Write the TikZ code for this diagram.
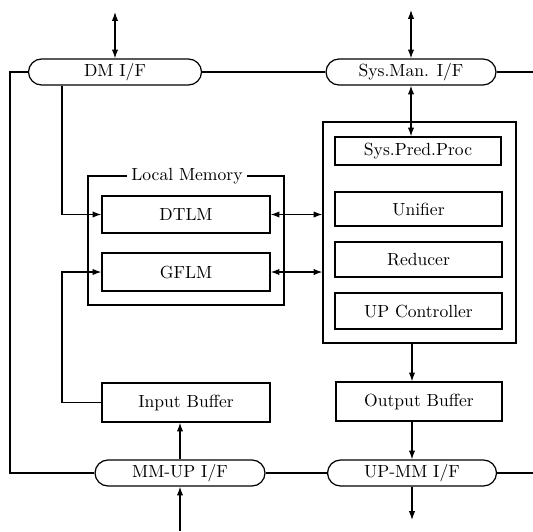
\documentclass[tikz,border=0pt]{standalone}
\usetikzlibrary{arrows.meta,shapes.misc}
\begin{document}
\begin{tikzpicture}[x=0.02cm,y=-0.02cm,line width=0.7pt,
    >={Latex[length=5pt,width=3.6pt]},
    ifc/.style={draw,rounded rectangle,minimum height=0.52cm,inner sep=0pt},
    blk/.style={draw,rectangle,inner sep=0pt}]
    \useasboundingbox (0,0) rectangle (533,531);
    \node[ifc,minimum width=3.46cm] (dmif) at (115,72) {DM I/F};
    \node[ifc,minimum width=3.4cm] (smif) at (411,72) {Sys.Man. I/F};
    \node[ifc,minimum width=3.4cm] (mmup) at (180,473) {MM-UP I/F};
    \node[ifc,minimum width=3.38cm] (upmm) at (412,473) {UP-MM I/F};
    \node[blk,minimum width=3.86cm,minimum height=4.42cm] (proc) at (419.5,232.5) {};
    \node[blk,minimum width=3.32cm,minimum height=0.56cm] (spp) at (418,151) {Sys.Pred.Proc};
    \node[blk,minimum width=3.34cm,minimum height=0.68cm] (unif) at (418.5,209) {Unifier};
    \node[blk,minimum width=3.34cm,minimum height=0.7cm] (red) at (418.5,259.5) {Reducer};
    \node[blk,minimum width=3.34cm,minimum height=0.72cm] (upc) at (418.5,311) {UP Controller};
    \node[blk,minimum width=3.92cm,minimum height=2.58cm] (lmem) at (186,240.5) {};
    \node[fill=white,inner sep=2.5pt] (lmlbl) at (187,176) {Local Memory};
    \node[blk,minimum width=3.36cm,minimum height=0.74cm] (dtlm) at (186,214.5) {DTLM};
    \node[blk,minimum width=3.36cm,minimum height=0.76cm] (gflm) at (186,272) {GFLM};
    \node[blk,minimum width=3.36cm,minimum height=0.78cm] (inbuf) at (186,402.5) {Input Buffer};
    \node[blk,minimum width=3.32cm,minimum height=0.78cm] (outbuf) at (419,401.5) {Output Buffer};
    \coordinate (dmtop) at (115,12);
    \coordinate (smtop) at (411,10);
    \coordinate (rgtA) at (533,72);
    \coordinate (rgtB) at (533,473);
    \coordinate (lft) at (10,0);
    \coordinate (bus) at (62,0);
    \coordinate (mmbot) at (180,531);
    \coordinate (upbot) at (412,520);
    \draw[<->] (dmtop) -- (dmif.north);
    \draw[<->] (smtop) -- (smif.north);
    \draw[<->] (smif.south) -- (smif.south |- spp.north);
    \draw
    (dmif.east) -- (smif.west)
    (smif.east) -- (rgtA)
    (mmup.east) -- (upmm.west)
    (upmm.east) -- (rgtB)
    ;
    \draw (dmif.west) -- (dmif.west -| lft) -- (lft |- mmup.west) -- (mmup.west);
    \draw[->] (dmif.south -| bus) |- (dtlm.west);
    \draw[->] (inbuf.west) -- (inbuf.west -| bus) |- (gflm.west);
    \draw[<->] (dtlm.east) -- (dtlm.east -| proc.west);
    \draw[<->] (gflm.east) -- (gflm.east -| proc.west);
    \draw[->] (proc.south -| upmm) -- (upmm |- outbuf.north);
    \draw[->] (outbuf.south -| upmm) -- (upmm.north);
    \draw[->] (upmm.south) -- (upbot);
    \draw[->] (mmbot) -- (mmup.south);
    \draw[->] (mmup.north) -- (mmup.north |- inbuf.south);
\end{tikzpicture}
\end{document}
